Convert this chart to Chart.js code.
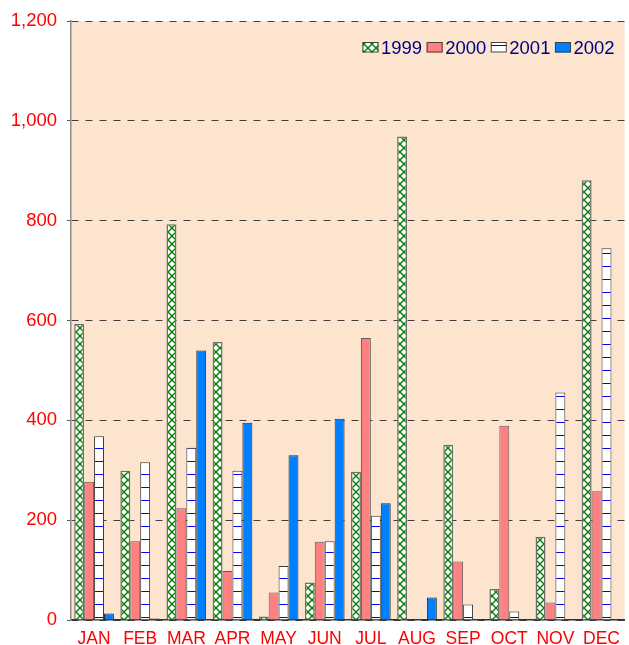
<!DOCTYPE html>
<html>
<head>
<meta charset="utf-8">
<script src="https://cdn.jsdelivr.net/npm/chart.js@4.4.0/dist/chart.umd.min.js"></script>
<style>
  html, body { margin: 0; padding: 0; background: #ffffff; }
  #wrap { width: 629px; height: 645px; position: relative; }
</style>
</head>
<body>
<div id="wrap"><canvas id="c"></canvas></div>
<script>
const months = ['JAN','FEB','MAR','APR','MAY','JUN','JUL','AUG','SEP','OCT','NOV','DEC'];
const seriesNames = ['1999','2000','2001','2002'];
const s1999 = [593, 299, 793, 557, 7, 75, 297, 969, 351, 62, 167, 881];
const s2000 = [277, 158, 224, 98, 55, 157, 565, 0, 117, 389, 35, 258];
const s2001 = [368, 316, 345, 299, 108, 158, 209, 0, 31, 17, 456, 745];
const s2002 = [13, 3, 540, 395, 330, 403, 234, 45, 0, 0, 0, 0];
const yMin = 0, yMax = 1200, yStep = 200;

function crossPattern() {
  const p = document.createElement('canvas');
  p.width = 8; p.height = 8;
  const g = p.getContext('2d');
  g.fillStyle = '#ffffff';
  g.fillRect(0, 0, 8, 8);
  g.strokeStyle = '#008000';
  g.lineWidth = 1.4;
  g.beginPath();
  g.moveTo(-1, -1); g.lineTo(9, 9);
  g.moveTo(9, -1); g.lineTo(-1, 9);
  g.stroke();
  return g.createPattern(p, 'repeat');
}
function hLinePattern() {
  const p = document.createElement('canvas');
  p.width = 4; p.height = 13;
  const g = p.getContext('2d');
  g.fillStyle = '#ffffff';
  g.fillRect(0, 0, 4, 13);
  g.fillStyle = '#0000ff';
  g.fillRect(0, 6, 4, 1);
  return g.createPattern(p, 'repeat');
}

const fills = [crossPattern(), '#FF8080', hLinePattern(), '#0080FF'];
const borders = ['#6e6e6e', '#606060', '#3a3a3a', '#2a2a2a'];
const borderWidths = [1.5, 1, 1, 1];
const seriesData = [s1999, s2000, s2001, s2002];

const bgPlugin = {
  id: 'bgPlugin',
  beforeDraw(chart) {
    const { ctx, chartArea: a } = chart;
    ctx.save();
    ctx.fillStyle = '#FCE4CF';
    ctx.fillRect(a.left, a.top, a.right - a.left, a.bottom - a.top);
    ctx.restore();
  }
};

const legendPlugin = {
  id: 'legendPlugin',
  afterDraw(chart) {
    const { ctx, chartArea: a } = chart;
    ctx.save();
    ctx.font = '18.5px "Liberation Sans", Arial, sans-serif';
    ctx.textBaseline = 'alphabetic';
    const boxW = 16, boxH = 10.5, gapAfterBox = 2.5, gapAfterText = 4.5;
    const widths = chart.data.datasets.map(d => ctx.measureText(d.label).width);
    let total = 0;
    widths.forEach(w => { total += boxW + gapAfterBox + w + gapAfterText; });
    total -= gapAfterText;
    let x = a.right - 10 - total;
    const boxTop = 42, baseline = 53.5;
    chart.data.datasets.forEach((d, i) => {
      ctx.fillStyle = d.backgroundColor;
      ctx.fillRect(x, boxTop, boxW, boxH);
      ctx.strokeStyle = '#404040';
      ctx.lineWidth = 1;
      ctx.strokeRect(x + 0.5, boxTop + 0.5, boxW - 1, boxH - 1);
      x += boxW + gapAfterBox;
      ctx.fillStyle = '#000080';
      ctx.fillText(d.label, x, baseline);
      x += widths[i] + gapAfterText;
    });
    ctx.restore();
  }
};

new Chart(document.getElementById('c'), {
  type: 'bar',
  data: {
    labels: months,
    datasets: seriesNames.map((n, i) => ({
      label: n,
      data: seriesData[i],
      backgroundColor: fills[i],
      borderColor: borders[i],
      borderWidth: borderWidths[i],
      borderSkipped: 'bottom',
      categoryPercentage: 0.86,
      barPercentage: 1.0
    }))
  },
  options: {
    responsive: true,
    maintainAspectRatio: false,
    animation: false,
    devicePixelRatio: 1,
    layout: { padding: { top: 21, right: 0, left: 0, bottom: 0 } },
    plugins: {
      legend: { display: false },
      tooltip: { enabled: false }
    },
    scales: {
      x: {
        grid: { display: false, drawTicks: false },
        border: { display: true, color: '#333333', width: 1.5 },
        ticks: {
          color: '#FF0000',
          padding: 9,
          font: { family: '"Liberation Sans", Arial, sans-serif', size: 17.5 }
        },
        afterFit(scale) { scale.height = 25; }
      },
      y: {
        min: yMin,
        max: yMax,
        grid: {
          color: '#404040',
          lineWidth: 1,
          drawTicks: true,
          tickLength: 4,
          tickColor: '#555555',
          tickBorderDash: []
        },
        border: { display: true, color: '#8a8a8a', width: 1.5, dash: [7, 7] },
        ticks: {
          stepSize: yStep,
          color: '#FF0000',
          padding: 10,
          font: { family: '"Liberation Sans", Arial, sans-serif', size: 18.5 },
          callback: v => v.toLocaleString('en-US')
        },
        afterFit(scale) { scale.width = 71; }
      }
    }
  },
  plugins: [bgPlugin, legendPlugin]
});
</script>
</body>
</html>
